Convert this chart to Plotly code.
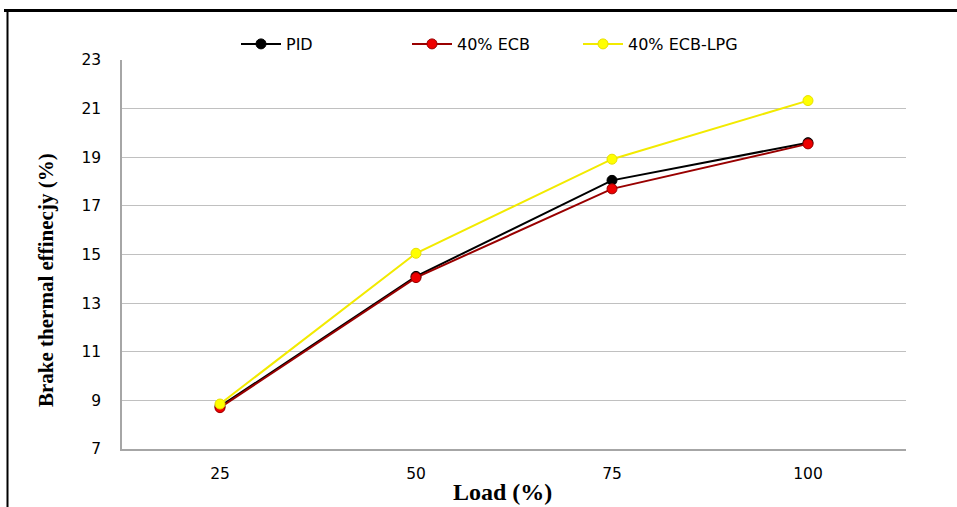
import plotly.graph_objects as go

loads = ["25", "50", "75", "100"]
pid = [8.75, 14.1, 18.05, 19.6]
ecb = [8.7, 14.05, 17.7, 19.55]
ecb_lpg = [8.85, 15.05, 18.92, 21.33]
y_ticks = [7, 9, 11, 13, 15, 17, 19, 21, 23]

fig = go.Figure()
series = [
    ("PID", pid, "#000000", "#000000", "#000000"),
    ("40% ECB", ecb, "#990000", "#ee0000", "#990000"),
    ("40% ECB-LPG", ecb_lpg, "#f2ea00", "#ffff00", "#e8e000"),
]
for name, vals, lc, mc, mlc in series:
    fig.add_trace(go.Scatter(
        x=loads, y=vals, name=name, mode="lines+markers",
        line=dict(color=lc, width=2),
        marker=dict(color=mc, size=10, line=dict(color=mlc, width=1)),
    ))

L, R, T, B = 122, 51, 60, 58
W, H = 957, 507
pw, ph = W - L - R, H - T - B

def px_x(px):
    return (px - L) / pw

def px_y(py):
    return (H - B - py) / ph

fig.update_layout(
    width=W, height=H,
    margin=dict(l=L, r=R, t=T, b=B),
    paper_bgcolor="white", plot_bgcolor="white",
    showlegend=True,
    legend=dict(orientation="h", x=px_x(236), xanchor="left", y=px_y(44), yanchor="middle",
                font=dict(family="DejaVu Sans", size=16, color="#000000"),
                itemwidth=40, entrywidth=116, entrywidthmode="pixels",
                bgcolor="rgba(0,0,0,0)"),
    xaxis=dict(type="category", range=[-0.5, 3.5], showgrid=False,
               showline=True, linecolor="#a6a6a6", linewidth=1.5,
               ticks="", tickfont=dict(family="DejaVu Sans", size=15.5, color="#000000"),
               zeroline=False),
    yaxis=dict(range=[7, 23], tickvals=y_ticks, showgrid=True, gridcolor="#c0c0c0",
               gridwidth=1, showline=True, linecolor="#a6a6a6", linewidth=1.5,
               ticks="", ticklen=0, tickfont=dict(family="DejaVu Sans", size=15.5, color="#000000"),
               zeroline=False),
    annotations=[
        dict(text="<b>Brake thermal effinecjy (%)</b>", xref="paper", yref="paper",
             x=px_x(46), y=px_y(280), textangle=-90, showarrow=False,
             font=dict(family="Liberation Serif", size=21, color="#000000"),
             xanchor="center", yanchor="middle"),
        dict(text="<b>Load (%)</b>", xref="paper", yref="paper",
             x=px_x(502), y=px_y(492), showarrow=False,
             font=dict(family="Liberation Serif", size=24, color="#000000"),
             xanchor="center", yanchor="middle"),
    ],
    shapes=[
        dict(type="line", xref="paper", yref="paper", x0=px_x(4), x1=px_x(960),
             y0=px_y(10.5), y1=px_y(10.5), line=dict(color="#000000", width=3)),
        dict(type="line", xref="paper", yref="paper", x0=px_x(7.5), x1=px_x(7.5),
             y0=px_y(9), y1=px_y(510), line=dict(color="#000000", width=2)),
    ],
)
fig.update_yaxes(ticklabelstandoff=16)
fig.update_xaxes(ticklabelstandoff=10)

fig.write_html("out.html", config={"displayModeBar": False},
               post_script="document.body.style.margin='0';document.body.style.overflow='hidden';")
